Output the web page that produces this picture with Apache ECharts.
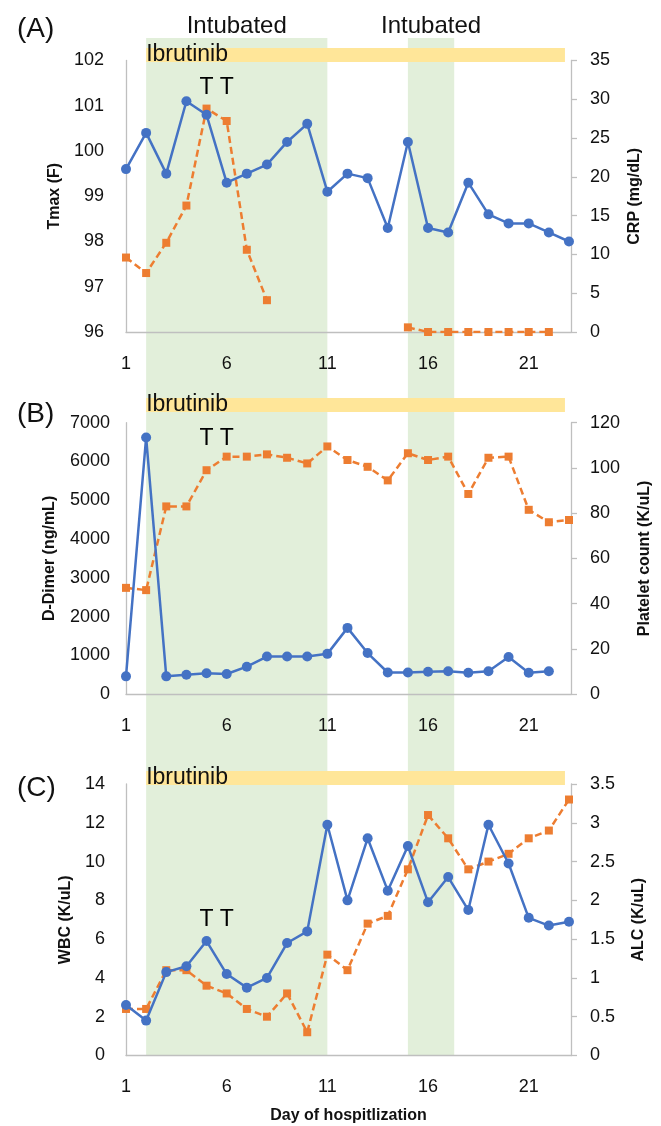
<!DOCTYPE html>
<html>
<head>
<meta charset="utf-8">
<script src="https://cdn.jsdelivr.net/npm/echarts@6/dist/echarts.min.js"></script>
<style>
html,body{margin:0;padding:0;background:#fff;}
#chart{width:661px;height:1126px;}
</style>
</head>
<body>
<div id="chart"></div>
<script>
// ---------- data ----------
const days = [1,2,3,4,5,6,7,8,9,10,11,12,13,14,15,16,17,18,19,20,21,22,23];
const dayTickLabels = [1,6,11,16,21];
const tmax = [99.6,100.4,99.5,101.1,100.8,99.3,99.5,99.7,100.2,100.6,99.1,99.5,99.4,98.3,100.2,98.3,98.2,99.3,98.6,98.4,98.4,98.2,98.0];
const crp = [9.6,7.6,11.5,16.3,28.8,27.2,10.6,4.1,null,null,null,null,null,null,0.6,0,0,0,0,0,0,0,null];
const dDimer = [460,6620,460,500,540,520,710,970,970,970,1040,1710,1060,560,560,580,590,555,590,960,555,590,null];
const platelets = [47,46,83,83,99,105,105,106,104.5,102,109.5,103.5,100.5,94.5,106.5,103.5,105,88.5,104.5,105,81.5,76,77];
const wbc = [2.6,1.8,4.3,4.6,5.9,4.2,3.5,4.0,5.8,6.4,11.9,8.0,11.2,8.5,10.8,7.9,9.2,7.5,11.9,9.9,7.1,6.7,6.9];
const alc = [0.6,0.6,1.1,1.1,0.9,0.8,0.6,0.5,0.8,0.3,1.3,1.1,1.7,1.8,2.4,3.1,2.8,2.4,2.5,2.6,2.8,2.9,3.3];
const intubatedPeriods = [[2, 11], [15, 17.3]];
const ibrutinibPeriod = [2, 22.8];
const tDays = [5, 6];
const tLevel = [101.4, 6600, 7.0];   // height of the "T" annotations on each panel's left axis
const panelLabels = ['(A)', '(B)', '(C)'];
const leftNames = ['Tmax (F)', 'D-Dimer (ng/mL)', 'WBC (K/uL)'];
const rightNames = ['CRP (mg/dL)', 'Platelet count (K/uL)', 'ALC (K/uL)'];
const leftRanges = [[96, 102, 1], [0, 7000, 1000], [0, 14, 2]];
const rightRanges = [[0, 35, 5], [0, 120, 20], [0, 3.5, 0.5]];
const leftSeries = [tmax, dDimer, wbc];
const rightSeries = [crp, platelets, alc];

// ---------- layout ----------
const FONT = 'Liberation Sans, Arial, sans-serif';
const BLUE = '#4472C4', ORANGE = '#ED7D31';
const AXIS_GRAY = '#BFBFBF';
const X_MIN = 1, X_MAX = 23.1;
const panelTops = [60.5, 422.7, 784];
const panelH = 271.5;
const barTops = [48, 398, 771];
const leftLabelMargin = [22, 16, 21];
const leftNameGap = [60, 68, 48];
const rightNameGap = [56, 66, 60];
const titleTops = [10, 395, 769];

const pair = arr => days.map((d, i) => [d, arr[i]]);

const grid = [];
const xAxis = [];
const yAxis = [];
const series = [];

// grid 0: intubation bands across all panels
grid.push({left: 126, right: 90, top: 38, bottom: 71});
xAxis.push({type: 'value', gridIndex: 0, min: X_MIN, max: X_MAX, show: false});
yAxis.push({type: 'value', gridIndex: 0, min: 0, max: 1, show: false});
series.push({
  type: 'line', xAxisIndex: 0, yAxisIndex: 0, data: [[1, 0]], showSymbol: false,
  lineStyle: {opacity: 0}, silent: true, z: -2,
  markArea: {
    silent: true, z: -2,
    itemStyle: {color: '#E2EFDA'},
    label: {show: true, position: 'top', distance: 0, fontSize: 24, color: '#111', fontFamily: FONT},
    data: intubatedPeriods.map(p => [{name: 'Intubated', xAxis: p[0]}, {xAxis: p[1]}])
  }
});

// grids 1..3: ibrutinib bars
barTops.forEach((t, k) => {
  const gi = grid.length;
  grid.push({left: 126, right: 90, top: t, height: 14});
  xAxis.push({type: 'value', gridIndex: gi, min: X_MIN, max: X_MAX, show: false});
  yAxis.push({type: 'value', gridIndex: gi, min: 0, max: 1, show: false});
  series.push({
    type: 'line', xAxisIndex: gi, yAxisIndex: yAxis.length - 1, data: [[1, 0]], showSymbol: false,
    lineStyle: {opacity: 0}, silent: true, z: 1,
    markArea: {
      silent: true, z: 1,
      itemStyle: {color: '#FFE699'},
      label: {show: true, position: 'insideLeft', distance: 0, fontSize: 23, color: '#111', fontFamily: FONT},
      data: [[{name: 'Ibrutinib', xAxis: ibrutinibPeriod[0]}, {xAxis: ibrutinibPeriod[1]}]]
    }
  });
});

// panels
for (let k = 0; k < 3; k++) {
  const gi = grid.length;
  grid.push({left: 126, right: 90, top: panelTops[k], height: panelH});
  const xi = xAxis.length;
  xAxis.push({
    type: 'value', gridIndex: gi, min: X_MIN, max: X_MAX, interval: 5, z: 3,
    axisLine: {show: true, lineStyle: {color: AXIS_GRAY, width: 1.3}},
    axisTick: {show: false, customValues: dayTickLabels},
    axisLabel: {customValues: dayTickLabels, margin: 23, fontSize: 18, color: '#111', fontFamily: FONT},
    splitLine: {show: false},
    name: k === 2 ? 'Day of hospitlization' : '',
    nameLocation: 'middle', nameGap: 52,
    nameTextStyle: {fontSize: 16, fontWeight: 'bold', color: '#111', fontFamily: FONT}
  });
  const li = yAxis.length;
  yAxis.push({
    type: 'value', gridIndex: gi, position: 'left', z: 3,
    min: leftRanges[k][0], max: leftRanges[k][1], interval: leftRanges[k][2],
    axisLine: {show: true, lineStyle: {color: AXIS_GRAY, width: 1.3}},
    axisTick: {show: false},
    axisLabel: {margin: leftLabelMargin[k], fontSize: 18, color: '#111', fontFamily: FONT,
                formatter: v => String(v)},
    splitLine: {show: false},
    name: leftNames[k], nameLocation: 'middle', nameGap: leftNameGap[k], nameRotate: 90,
    nameTextStyle: {fontSize: 16, fontWeight: 'bold', color: '#111', fontFamily: FONT}
  });
  const ri = yAxis.length;
  yAxis.push({
    type: 'value', gridIndex: gi, position: 'right', z: 3,
    min: rightRanges[k][0], max: rightRanges[k][1], interval: rightRanges[k][2],
    axisLine: {show: true, lineStyle: {color: AXIS_GRAY, width: 1.3}},
    axisTick: {show: true, length: 6, lineStyle: {color: AXIS_GRAY, width: 1.3}},
    axisLabel: {margin: 19, fontSize: 18, color: '#111', fontFamily: FONT,
                formatter: v => String(v)},
    splitLine: {show: false},
    name: rightNames[k], nameLocation: 'middle', nameGap: rightNameGap[k], nameRotate: 90,
    nameTextStyle: {fontSize: 16, fontWeight: 'bold', color: '#111', fontFamily: FONT}
  });
  series.push({
    type: 'line', xAxisIndex: xi, yAxisIndex: li, data: pair(leftSeries[k]),
    symbol: 'circle', symbolSize: 10, connectNulls: false, z: 4,
    lineStyle: {color: BLUE, width: 2.5}, itemStyle: {color: BLUE}
  });
  series.push({
    type: 'line', xAxisIndex: xi, yAxisIndex: ri, data: pair(rightSeries[k]),
    symbol: 'rect', symbolSize: 8, connectNulls: false, z: 3,
    lineStyle: {color: ORANGE, width: 2.5, type: [7, 4]}, itemStyle: {color: ORANGE}
  });
  series.push({
    type: 'scatter', xAxisIndex: xi, yAxisIndex: li,
    data: tDays.map(d => [d, tLevel[k]]), symbolSize: 2,
    itemStyle: {color: 'rgba(0,0,0,0)', opacity: 1},
    label: {show: true, position: 'inside', formatter: 'T', fontSize: 23, color: '#000',
            opacity: 1, fontFamily: FONT},
    silent: true, z: 5
  });
}

const option = {
  animation: false,
  backgroundColor: '#fff',
  title: panelLabels.map((t, k) => ({
    text: t, left: 12, top: titleTops[k],
    textStyle: {fontSize: 28, fontWeight: 'normal', color: '#111', fontFamily: FONT}
  })),
  grid, xAxis, yAxis, series
};

const chart = echarts.init(document.getElementById('chart'), null, {renderer: 'canvas'});
chart.setOption(option);
</script>
</body>
</html>
